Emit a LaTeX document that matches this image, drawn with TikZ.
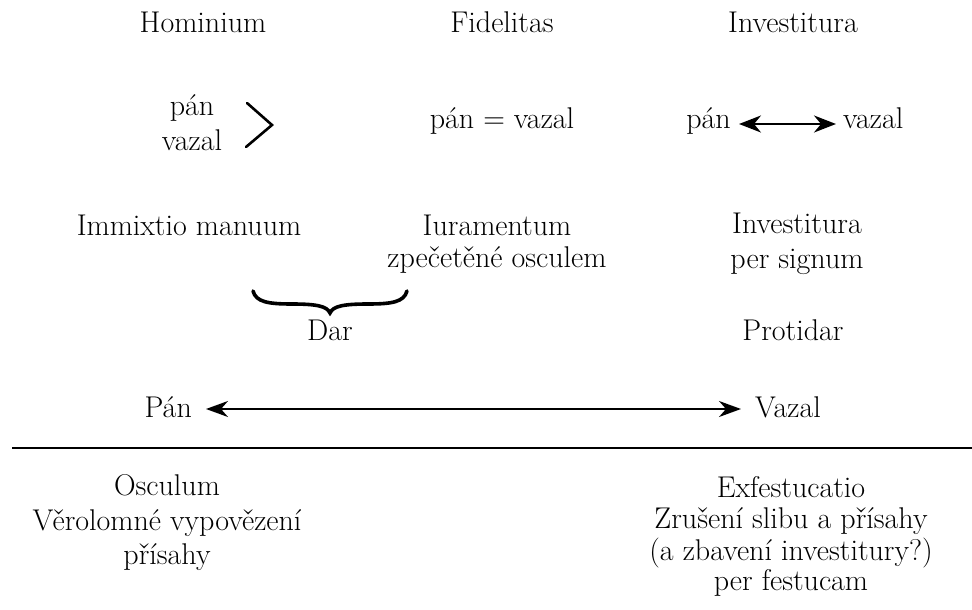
\documentclass[tikz,border=0pt]{standalone}
\usepackage{fontspec}
\setmainfont{Latin Modern Roman}
\usetikzlibrary{arrows.meta}
\begin{document}
\begin{tikzpicture}[x=1pt,y=-1pt,
  txt/.style={font=\fontsize{30}{35}\selectfont, inner sep=0pt, anchor=base},
  dblarrow/.style={line width=2.2pt, {Stealth[length=22pt,width=17pt,inset=7pt]}-{Stealth[length=22pt,width=17pt,inset=7pt]}},
  longarrow/.style={line width=1.8pt, {Stealth[length=22pt,width=16pt,inset=7pt]}-{Stealth[length=22pt,width=16pt,inset=7pt]}},
  gtsign/.style={line width=2.6pt, line cap=round, line join=miter},
  bracestyle/.style={line width=3.6pt, line cap=round},
  rule/.style={line width=2.8pt}]
\useasboundingbox (0,0) rectangle (972,610);

% headings
\node[txt] (hom) at (203,33) {Hominium};
\node[txt] (fid) at (502,33) {Fidelitas};
\node[txt] (inv) at (793,33) {Investitura};

% second row
\node[txt] (hp) at (192,115) {pán};
\node[txt] (hv) at (192,150) {vazal};
\coordinate (g1) at (247,103);
\coordinate (g2) at (272,125);
\coordinate (g3) at (246,147);
\draw[gtsign] (g1) -- (g2) -- (g3);

\node[txt] (fpv) at (502,128) {pán = vazal};

\node[txt, anchor=base east] (ip) at (731,128) {pán};
\node[txt, anchor=base west] (iv) at (843,128) {vazal};
\draw[dblarrow, shorten <=8pt, shorten >=7pt] ([yshift=4pt]ip.base east) -- ([yshift=4pt]iv.base west);

% third row
\node[txt] (imm) at (189,235) {Immixtio manuum};
\node[txt] (iur) at (497,235) {Iuramentum};
\node[txt] (zpe) at (497,267) {zpečetěné osculem};
\node[txt] (ivs) at (797,233) {Investitura};
\node[txt] (pes) at (797,268) {per signum};

% brace
\coordinate (bl) at (253,291);
\coordinate (bt) at (330,313);
\coordinate (br) at (407,291);
\draw[bracestyle] (bl) .. controls (256,302) and (268,304) .. (292,304)
  .. controls (316,304) and (327,306) .. (bt)
  .. controls (333,306) and (344,304) .. (368,304)
  .. controls (392,304) and (404,302) .. (br);

\node[txt] (dar) at (330,340) {Dar};
\node[txt] (pro) at (793,340) {Protidar};

% main arrow
\node[txt, anchor=base east] (pan) at (192,417) {Pán};
\node[txt, anchor=base west] (vaz) at (755,417) {Vazal};
\draw[longarrow, shorten <=14pt, shorten >=14pt] ([yshift=8pt]pan.base east) -- ([yshift=8pt]vaz.base west);

% rule
\coordinate (r1) at (12,448);
\coordinate (r2) at (972,448);
\draw[rule] (r1) -- (r2);

% bottom left
\node[txt] (osc) at (167,495) {Osculum};
\node[txt] (ver) at (167,530) {Věrolomné vypovězení};
\node[txt] (pri) at (167,564) {přísahy};

% bottom right
\node[txt] (exf) at (791,497) {Exfestucatio};
\node[txt] (zru) at (791,528) {Zrušení slibu a přísahy};
\node[txt] (zba) at (791,560) {(a zbavení investitury?)};
\node[txt] (pef) at (791,590) {per festucam};
\end{tikzpicture}
\end{document}
